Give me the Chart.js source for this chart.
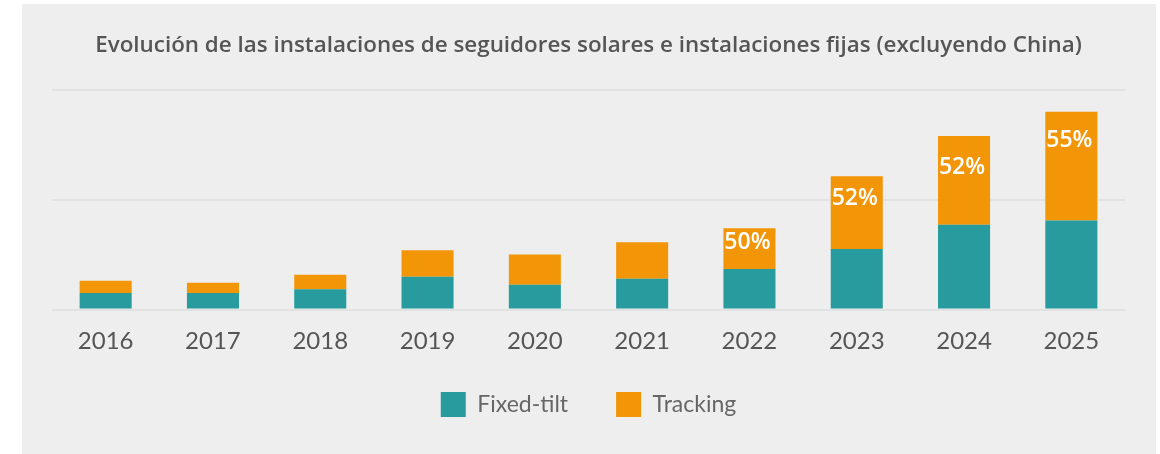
<!DOCTYPE html>
<html>
<head>
<meta charset="utf-8">
<script src="https://cdn.jsdelivr.net/npm/chart.js@4"></script>
<style>
  html, body { margin: 0; padding: 0; background: #ffffff; width: 1160px; height: 454px; overflow: hidden; }
  #panel { position: absolute; left: 22px; top: 4px; width: 1134px; height: 450px; background: #edeeed; }
  #c { display: block; }
</style>
</head>
<body>
<div id="panel"><canvas id="c" width="1134" height="450"></canvas></div>
<script>
const years = ['2016','2017','2018','2019','2020','2021','2022','2023','2024','2025'];
const fixedTilt = [7.5, 7.5, 9.3, 14.9, 11.3, 14.0, 18.5, 27.6, 38.6, 40.5];
const tracking = [5.6, 4.7, 6.6, 12.1, 13.8, 16.6, 18.5, 33.1, 40.4, 49.5];
const shareLabels = ['', '', '', '', '', '', '50%', '52%', '52%', '55%'];
const titleText = 'Evolución de las instalaciones de seguidores solares e instalaciones fijas (excluyendo China)';

const FONT = 'Lato, "Open Sans", sans-serif';
const FONT2 = '"Open Sans", Lato, sans-serif';

const shareLabelPlugin = {
  id: 'shareLabels',
  afterDatasetsDraw(chart, args, opts) {
    const ctx = chart.ctx;
    const meta = chart.getDatasetMeta(1);
    ctx.save();
    ctx.fillStyle = '#ffffff';
    ctx.font = '600 23px ' + FONT2;
    ctx.textAlign = 'center';
    ctx.textBaseline = 'middle';
    meta.data.forEach((bar, i) => {
      const t = shareLabels[i];
      if (!t) return;
      const off = opts.offsets[i] || 20;
      ctx.fillText(t, bar.x - 2, bar.y + off);
    });
    ctx.restore();
  }
};

// let the x tick labels extend below the (deliberately short) axis box
const tickRoomPlugin = {
  id: 'tickRoom',
  afterLayout(chart) {
    const x = chart.scales.x;
    x.bottom = x.top + 60;
  }
};

new Chart(document.getElementById('c'), {
  type: 'bar',
  data: {
    labels: years,
    datasets: [
      { label: 'Fixed-tilt', data: fixedTilt, backgroundColor: '#279b9d', borderWidth: 0 },
      { label: 'Tracking', data: tracking, backgroundColor: '#f29507', borderWidth: 0 }
    ]
  },
  options: {
    responsive: false,
    animation: false,
    layout: { padding: { left: 30, right: 31, top: 0, bottom: 27 } },
    datasets: { bar: { categoryPercentage: 1, barPercentage: 0.485 } },
    scales: {
      x: {
        stacked: true,
        grid: { display: false, drawTicks: false },
        border: { display: false },
        ticks: { color: '#555555', font: { family: FONT, size: 24 }, padding: 17.6 },
        afterFit(scale) { scale.height = 34.4; }
      },
      y: {
        stacked: true,
        min: 0, max: 100,
        ticks: { display: false, stepSize: 50 },
        grid: { color: '#e1e3e2', lineWidth: 2, drawTicks: false },
        border: { display: false }
      }
    },
    plugins: {
      title: {
        display: true,
        text: titleText,
        color: '#555555',
        font: { family: FONT2, size: 22.4, weight: '600' },
        padding: { top: 28, bottom: 31 }
      },
      legend: {
        position: 'bottom',
        labels: {
          color: '#666666',
          font: { family: FONT, size: 23 },
          boxWidth: 25, boxHeight: 25,
          padding: 48
        }
      },
      tooltip: { enabled: false },
      shareLabels: { offsets: [0,0,0,0,0,0,14.5,22.5,31,29] }
    }
  },
  plugins: [shareLabelPlugin, tickRoomPlugin]
});
</script>
</body>
</html>
